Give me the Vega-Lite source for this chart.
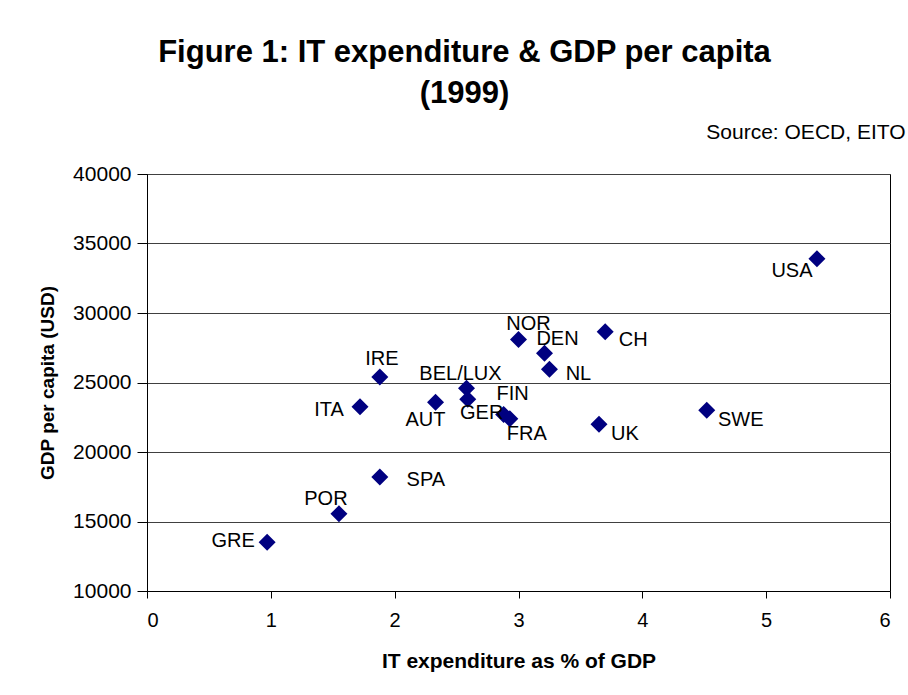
{
  "$schema": "https://vega.github.io/schema/vega-lite/v6.json",
  "autosize": "none",
  "width": 743,
  "height": 417,
  "padding": {"left": 147, "top": 174, "right": 18, "bottom": 104},
  "background": "white",
  "title": {
    "text": ["Figure 1: IT expenditure & GDP per capita", "(1999)"],
    "fontSize": 31,
    "fontWeight": "bold",
    "font": "Liberation Sans",
    "color": "black",
    "lineHeight": 41,
    "anchor": "middle",
    "dx": -54,
    "offset": 11
  },
  "config": {
    "font": "Liberation Sans",
    "view": {"stroke": "black", "strokeWidth": 1},
    "axis": {
      "labelColor": "black",
      "titleColor": "black",
      "domainColor": "black",
      "tickColor": "black",
      "labelFont": "Liberation Sans",
      "titleFont": "Liberation Sans"
    }
  },
  "data": {
    "values": [
      {"country": "USA", "it": 5.41, "gdp": 33900},
      {"country": "CH", "it": 3.7, "gdp": 28650},
      {"country": "NOR", "it": 3.0, "gdp": 28100},
      {"country": "DEN", "it": 3.21, "gdp": 27100},
      {"country": "NL", "it": 3.25, "gdp": 25950},
      {"country": "IRE", "it": 1.88, "gdp": 25400},
      {"country": "BEL/LUX", "it": 2.58, "gdp": 24580},
      {"country": "GER", "it": 2.59, "gdp": 23800},
      {"country": "AUT", "it": 2.33, "gdp": 23580},
      {"country": "ITA", "it": 1.72, "gdp": 23260},
      {"country": "FIN", "it": 2.88, "gdp": 22700},
      {"country": "FRA", "it": 2.93, "gdp": 22400},
      {"country": "UK", "it": 3.65, "gdp": 22000},
      {"country": "SWE", "it": 4.52, "gdp": 23000},
      {"country": "SPA", "it": 1.88, "gdp": 18200},
      {"country": "POR", "it": 1.55, "gdp": 15550},
      {"country": "GRE", "it": 0.97, "gdp": 13500}
    ]
  },
  "resolve": {"axis": {"x": "independent"}},
  "layer": [
    {
      "mark": {"type": "point", "shape": "diamond", "filled": true, "size": 289, "color": "#000080", "opacity": 1},
      "encoding": {
        "x": {
          "field": "it", "type": "quantitative",
          "scale": {"domain": [0, 6], "nice": false, "zero": false},
          "axis": {
            "orient": "bottom",
            "title": "IT expenditure as % of GDP",
            "values": [0, 1, 2, 3, 4, 5, 6],
            "grid": false,
            "tickSize": 7,
            "labelFontSize": 20,
            "labelPadding": 12,
            "titleFontSize": 21,
            "titleFontWeight": "bold",
            "titlePadding": 20
          }
        },
        "y": {
          "field": "gdp", "type": "quantitative",
          "scale": {"domain": [10000, 40000], "nice": false, "zero": false},
          "axis": {
            "title": "GDP per capita (USD)",
            "values": [10000, 15000, 20000, 25000, 30000, 35000, 40000],
            "format": "d",
            "grid": true,
            "gridColor": "#404040",
            "gridOpacity": 1,
            "tickSize": 10,
            "labelFontSize": 21,
            "labelPadding": 6,
            "titleFontSize": 19,
            "titleFontWeight": "bold",
            "titlePadding": 15
          }
        }
      }
    },
    {
      "encoding": {
        "x": {
          "field": "it", "type": "quantitative",
          "axis": {
            "orient": "top",
            "title": "Source: OECD, EITO",
            "labels": false,
            "ticks": false,
            "domain": false,
            "grid": false,
            "titleFontSize": 21,
            "titleFontWeight": "normal",
            "titleAnchor": "end",
            "titleAlign": "right",
            "titleBaseline": "alphabetic",
            "titleX": 758,
            "titleY": -36
          }
        },
        "y": {"field": "gdp", "type": "quantitative"},
        "text": {"field": "country"}
      },
      "layer": [
        {"transform": [{"filter": "datum.country === 'USA'"}], "mark": {"type": "text", "fontSize": 20, "color": "black", "align": "center", "baseline": "middle", "dx": -25, "dy": 12}},
        {"transform": [{"filter": "datum.country === 'CH'"}], "mark": {"type": "text", "fontSize": 20, "color": "black", "align": "center", "baseline": "middle", "dx": 28, "dy": 8}},
        {"transform": [{"filter": "datum.country === 'NOR'"}], "mark": {"type": "text", "fontSize": 20, "color": "black", "align": "center", "baseline": "middle", "dx": 10, "dy": -15}},
        {"transform": [{"filter": "datum.country === 'DEN'"}], "mark": {"type": "text", "fontSize": 20, "color": "black", "align": "center", "baseline": "middle", "dx": 13, "dy": -14}},
        {"transform": [{"filter": "datum.country === 'NL'"}], "mark": {"type": "text", "fontSize": 20, "color": "black", "align": "center", "baseline": "middle", "dx": 29, "dy": 5}},
        {"transform": [{"filter": "datum.country === 'IRE'"}], "mark": {"type": "text", "fontSize": 20, "color": "black", "align": "center", "baseline": "middle", "dx": 2, "dy": -18}},
        {"transform": [{"filter": "datum.country === 'BEL/LUX'"}], "mark": {"type": "text", "fontSize": 20, "color": "black", "align": "center", "baseline": "middle", "dx": -6, "dy": -14}},
        {"transform": [{"filter": "datum.country === 'GER'"}], "mark": {"type": "text", "fontSize": 20, "color": "black", "align": "center", "baseline": "middle", "dx": 14, "dy": 14}},
        {"transform": [{"filter": "datum.country === 'AUT'"}], "mark": {"type": "text", "fontSize": 20, "color": "black", "align": "center", "baseline": "middle", "dx": -10, "dy": 18}},
        {"transform": [{"filter": "datum.country === 'ITA'"}], "mark": {"type": "text", "fontSize": 20, "color": "black", "align": "center", "baseline": "middle", "dx": -31, "dy": 3}},
        {"transform": [{"filter": "datum.country === 'FIN'"}], "mark": {"type": "text", "fontSize": 20, "color": "black", "align": "center", "baseline": "middle", "dx": 9, "dy": -20}},
        {"transform": [{"filter": "datum.country === 'FRA'"}], "mark": {"type": "text", "fontSize": 20, "color": "black", "align": "center", "baseline": "middle", "dx": 17, "dy": 15}},
        {"transform": [{"filter": "datum.country === 'UK'"}], "mark": {"type": "text", "fontSize": 20, "color": "black", "align": "center", "baseline": "middle", "dx": 26, "dy": 10}},
        {"transform": [{"filter": "datum.country === 'SWE'"}], "mark": {"type": "text", "fontSize": 20, "color": "black", "align": "center", "baseline": "middle", "dx": 34, "dy": 10}},
        {"transform": [{"filter": "datum.country === 'SPA'"}], "mark": {"type": "text", "fontSize": 20, "color": "black", "align": "center", "baseline": "middle", "dx": 46, "dy": 3}},
        {"transform": [{"filter": "datum.country === 'POR'"}], "mark": {"type": "text", "fontSize": 20, "color": "black", "align": "center", "baseline": "middle", "dx": -13, "dy": -15}},
        {"transform": [{"filter": "datum.country === 'GRE'"}], "mark": {"type": "text", "fontSize": 20, "color": "black", "align": "center", "baseline": "middle", "dx": -34, "dy": -1}}
      ]
    }
  ]
}
